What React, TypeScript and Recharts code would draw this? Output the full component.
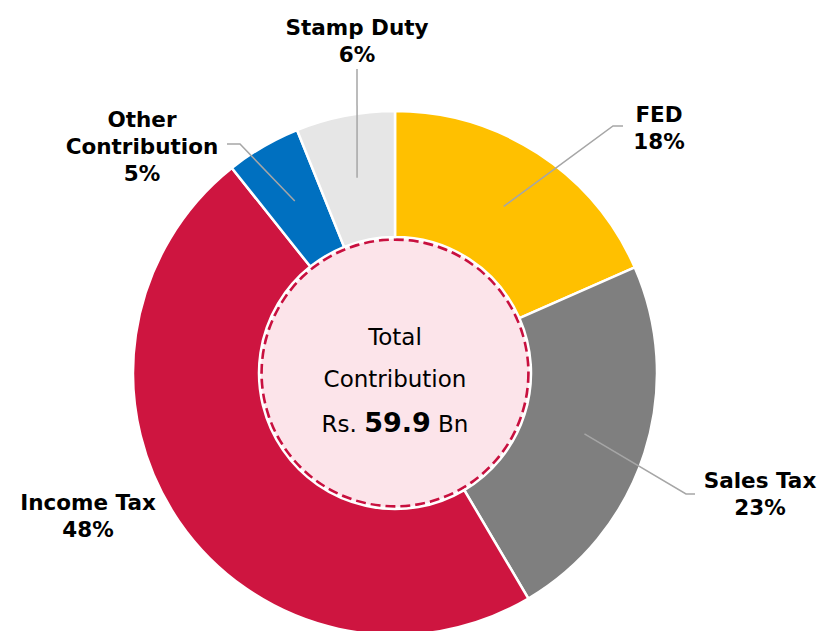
import React from "react";
import { PieChart, Pie, Cell } from "recharts";

// slice values (share of total, %), clockwise from 12 o'clock
const categories = ["FED", "Sales Tax", "Income Tax", "Other Contribution", "Stamp Duty"];
const shares = [18.4, 23.1, 47.8, 4.6, 6.1];
const totalBn = 59.9;

const colors = ["#FFC000", "#7F7F7F", "#CE1540", "#0070C0", "#E6E6E6"];

const data = categories.map((name, i) => ({ name, value: shares[i] }));

const CX = 395;
const CY = 373;
const INNER = 136;
const OUTER = 262;
const RADIAN = Math.PI / 180;
const FONT = "'DejaVu Sans', Verdana, sans-serif";

// label placement relative to the pie centre: text centre/first baseline, leader elbow + end
const labelLayout: Record<string, { tx: number; ty: number; lines: string[]; elbow?: [number, number]; end?: [number, number] }> = {
  "FED": { tx: 264, ty: -251, lines: ["FED"], elbow: [218, -247], end: [228, -247] },
  "Sales Tax": { tx: 365, ty: 115, lines: ["Sales Tax"], elbow: [291, 121], end: [300, 121] },
  "Income Tax": { tx: -307, ty: 137, lines: ["Income Tax"] },
  "Other Contribution": { tx: -253, ty: -246, lines: ["Other", "Contribution"], elbow: [-155, -229], end: [-168, -229] },
  "Stamp Duty": { tx: -38, ty: -338, lines: ["Stamp Duty"], elbow: [-38, -304] },
};

const renderLabel = (props: any) => {
  const { cx, cy, midAngle, innerRadius, outerRadius, percent, index } = props;
  const name = categories[index];
  const cfg = labelLayout[name];
  const r = (innerRadius + outerRadius) / 2;
  const sx = cx + r * Math.cos(-midAngle * RADIAN);
  const sy = cy + r * Math.sin(-midAngle * RADIAN);
  const pts: string[] = [`${sx},${sy}`];
  if (cfg.elbow) pts.push(`${cx + cfg.elbow[0]},${cy + cfg.elbow[1]}`);
  if (cfg.end) pts.push(`${cx + cfg.end[0]},${cy + cfg.end[1]}`);
  const lines = [...cfg.lines, `${Math.round(percent * 100)}%`];
  return (
    <g key={`lbl-${index}`}>
      {pts.length > 1 && (
        <polyline points={pts.join(" ")} fill="none" stroke="#A6A6A6" strokeWidth={1.5} />
      )}
      <text
        x={cx + cfg.tx}
        y={cy + cfg.ty}
        textAnchor="middle"
        fontFamily={FONT}
        fontWeight="bold"
        fontSize={21.5}
        fill="#000"
      >
        {lines.map((l, i) => (
          <tspan key={i} x={cx + cfg.tx} dy={i === 0 ? 0 : 27}>
            {l}
          </tspan>
        ))}
      </text>
    </g>
  );
};

export default function App() {
  return (
    <div style={{ position: "absolute", left: 0, top: 0, width: 823, height: 631, background: "#fff" }}>
      <PieChart width={823} height={631} margin={{ top: 0, right: 0, bottom: 0, left: 0 }}>
        <Pie
          data={data}
          dataKey="value"
          nameKey="name"
          cx={CX}
          cy={CY}
          innerRadius={INNER}
          outerRadius={OUTER}
          startAngle={90}
          endAngle={-270}
          stroke="#fff"
          strokeWidth={2.5}
          label={renderLabel}
          labelLine={false}
          isAnimationActive={false}
        >
          {data.map((d, i) => (
            <Cell key={d.name} fill={colors[i]} />
          ))}
        </Pie>
        <g>
          <circle cx={CX} cy={CY} r={INNER - 2} fill="#FCE4EA" stroke="#C8103F" strokeWidth={3.8} strokeDasharray="10 5" />
          <text x={CX} y={345} textAnchor="middle" fontFamily={FONT} fontSize={23} fill="#000">
            Total
          </text>
          <text x={CX} y={387} textAnchor="middle" fontFamily={FONT} fontSize={23} fill="#000">
            Contribution
          </text>
          <text x={CX} y={432} textAnchor="middle" fontFamily={FONT} fontSize={23} fill="#000">
            Rs. <tspan fontWeight="bold" fontSize={27}>{totalBn}</tspan> Bn
          </text>
        </g>
      </PieChart>
    </div>
  );
}
